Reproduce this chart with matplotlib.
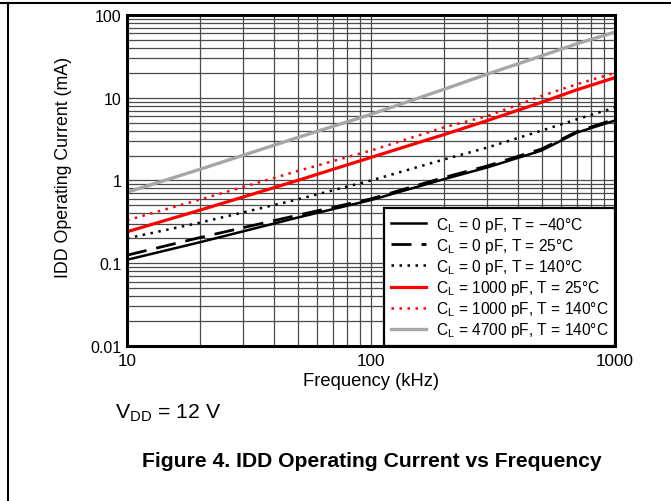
import matplotlib
matplotlib.use("Agg")
import matplotlib.pyplot as plt
from matplotlib.lines import Line2D
from matplotlib.ticker import FixedLocator, FixedFormatter, LogLocator, NullFormatter

plt.rcParams['font.family'] = ['Liberation Sans', 'DejaVu Sans']
plt.rcParams['mathtext.fontset'] = 'custom'
plt.rcParams['mathtext.rm'] = 'Liberation Sans'

# ---- data ----
freq_khz = [10, 20, 50, 100, 200, 300, 500, 700, 1000]
i_0pf_m40 = [0.11, 0.18, 0.356, 0.58, 1.04, 1.44, 2.3, 3.8, 5.3]
i_0pf_25 = [0.125, 0.205, 0.38, 0.60, 1.09, 1.5, 2.4, 3.9, 5.5]
i_0pf_140 = [0.20, 0.31, 0.59, 1.0, 1.8, 2.5, 4.0, 5.5, 7.6]
i_1000pf_25 = [0.24, 0.44, 1.0, 1.9, 3.6, 5.3, 8.8, 12.5, 17.5]
i_1000pf_140 = [0.33, 0.59, 1.3, 2.3, 4.4, 6.0, 10.5, 14.6, 20.0]
i_4700pf_140 = [0.72, 1.37, 3.3, 6.3, 12.7, 19.3, 32.0, 45.0, 62.0]

labels = [
    r'C$_\mathregular{L}$ = 0 pF, T = −40°C',
    r'C$_\mathregular{L}$ = 0 pF, T = 25°C',
    r'C$_\mathregular{L}$ = 0 pF, T = 140°C',
    r'C$_\mathregular{L}$ = 1000 pF, T = 25°C',
    r'C$_\mathregular{L}$ = 1000 pF, T = 140°C',
    r'C$_\mathregular{L}$ = 4700 pF, T = 140°C',
]
y_ticks = [0.01, 0.1, 1, 10, 100]
y_tick_labels = ['0.01', '0.1', '1', '10', '100']
x_ticks = [10, 100, 1000]
x_tick_labels = ['10', '100', '1000']

fig = plt.figure(figsize=(6.71, 5.02), dpi=100)
ax = fig.add_axes([0.1893, 0.3088, 0.7272, 0.6594])

ax.plot(freq_khz, i_0pf_m40, color='black', lw=1.8, ls='-', label=labels[0])
ax.plot(freq_khz, i_0pf_25, color='black', lw=2.0, ls=(0, (7.2, 3.6)), label=labels[1])
ax.plot(freq_khz, i_0pf_140, color='black', lw=1.8, ls=(0, (1, 2.2)), label=labels[2])
ax.plot(freq_khz, i_1000pf_25, color='#ff0000', lw=2.3, ls='-', label=labels[3])
ax.plot(freq_khz, i_1000pf_140, color='#ff0000', lw=1.8, ls=(0, (1, 2.2)), label=labels[4])
ax.plot(freq_khz, i_4700pf_140, color='#a6a6a6', lw=2.4, ls='-', label=labels[5])

ax.set_xscale('log')
ax.set_yscale('log')
ax.set_xlim(10, 1000)
ax.set_ylim(0.01, 100)

ax.yaxis.set_major_locator(FixedLocator(y_ticks))
ax.yaxis.set_major_formatter(FixedFormatter(y_tick_labels))
ax.xaxis.set_major_locator(FixedLocator(x_ticks))
ax.xaxis.set_major_formatter(FixedFormatter(x_tick_labels))
ax.xaxis.set_minor_locator(LogLocator(base=10, subs=range(2, 10)))
ax.yaxis.set_minor_locator(LogLocator(base=10, subs=range(2, 10)))
ax.xaxis.set_minor_formatter(NullFormatter())
ax.yaxis.set_minor_formatter(NullFormatter())

ax.grid(True, which='both', color='#4a4a4a', lw=0.9)
ax.set_axisbelow(True)
ax.tick_params(which='both', length=0, pad=4)
ax.tick_params(axis='y', labelsize=11.5)
ax.tick_params(axis='x', labelsize=12.3, pad=5)
for s in ax.spines.values():
    s.set_linewidth(2.2)
    s.set_color('black')

ax.set_xlabel('Frequency (kHz)', fontsize=13.2, labelpad=3)
fig.text(63 / 671, 1 - 167 / 502, 'IDD Operating Current (mA)', fontsize=12.8,
         rotation=90, ha='center', va='center')

leg = ax.legend(loc='lower right', bbox_to_anchor=(1.0, 0.0), borderaxespad=0,
                fontsize=11.2, frameon=True, fancybox=False, framealpha=1,
                edgecolor='black', handlelength=2.3, handletextpad=0.6,
                labelspacing=0.14, borderpad=0.42)
leg.get_frame().set_linewidth(1.6)

fig.text(115 / 671, 1 - 413 / 502, r'V$_\mathregular{DD}$ = 12 V', fontsize=15.3,
         ha='left', va='center')
fig.text(372 / 671, 1 - 462 / 502, 'Figure 4. IDD Operating Current vs Frequency',
         fontsize=15.2, fontweight='bold', ha='center', va='center')

fig.add_artist(Line2D([0, 1], [1 - 4 / 502, 1 - 4 / 502], color='black', lw=1.5,
                      transform=fig.transFigure))
fig.add_artist(Line2D([8 / 671, 8 / 671], [0, 1 - 4 / 502], color='black', lw=1.5,
                      transform=fig.transFigure))

fig.savefig('out.png', dpi=100)
